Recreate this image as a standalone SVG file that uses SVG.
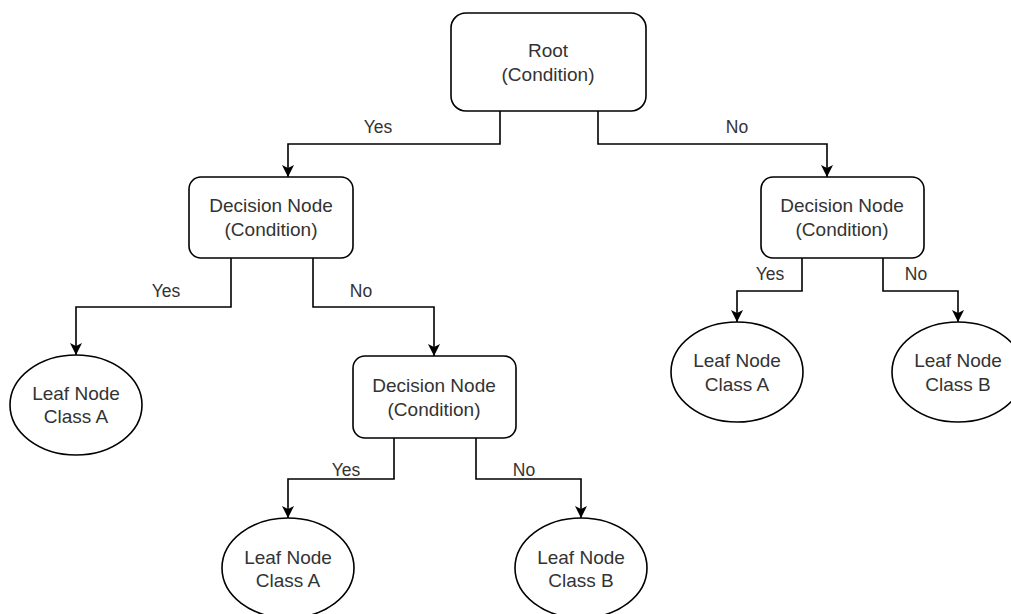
<svg xmlns="http://www.w3.org/2000/svg" width="1011" height="614" viewBox="0 0 1011 614">
  <defs>
    <marker id="arrow" viewBox="0 0 12 12" refX="12" refY="6" markerWidth="12" markerHeight="12" orient="auto" markerUnits="userSpaceOnUse">
      <path d="M0,0 L12,6 L0,12 L3,6 z" fill="#000"/>
    </marker>
    <style>
      .box { fill: #fff; stroke: #000; stroke-width: 1.6; }
      .edge { fill: none; stroke: #000; stroke-width: 1.6; marker-end: url(#arrow); }
      .label { font-family: "Liberation Sans", Arial, sans-serif; font-size: 19px; fill: #333; text-anchor: middle; }
      .elabel { font-family: "Liberation Sans", Arial, sans-serif; font-size: 17.5px; fill: #333; text-anchor: middle; }
    </style>
  </defs>
  <rect width="1011" height="614" fill="#fff"/>

  <!-- connectors -->
  <g id="connectors">
    <path class="edge" d="M500,111 V144 H288 V177"/>
    <path class="edge" d="M598,111 V144 H827 V177"/>
    <path class="edge" d="M231,258 V307 H76 V355"/>
    <path class="edge" d="M313,258 V307 H434 V356"/>
    <path class="edge" d="M394,438 V479 H288 V518"/>
    <path class="edge" d="M476,438 V479 H581 V518"/>
    <path class="edge" d="M802,258 V291 H737 V322"/>
    <path class="edge" d="M883,258 V291 H958 V322"/>
    <text class="elabel" x="378" y="133">Yes</text>
    <text class="elabel" x="737" y="133">No</text>
    <text class="elabel" x="166" y="297">Yes</text>
    <text class="elabel" x="361" y="297">No</text>
    <text class="elabel" x="346" y="476">Yes</text>
    <text class="elabel" x="524" y="476">No</text>
    <text class="elabel" x="770" y="280">Yes</text>
    <text class="elabel" x="916" y="280">No</text>
  </g>

  <!-- root -->
  <g id="root">
    <rect class="box" x="451" y="13" width="195" height="98" rx="15" ry="15"/>
    <text class="label" x="548" y="57">Root</text>
    <text class="label" x="548" y="81">(Condition)</text>
  </g>

  <!-- decision nodes -->
  <g id="decision-left">
    <rect class="box" x="189" y="177" width="164" height="81" rx="12" ry="12"/>
    <text class="label" x="271" y="212">Decision Node</text>
    <text class="label" x="271" y="236">(Condition)</text>
  </g>
  <g id="decision-mid">
    <rect class="box" x="353" y="356" width="163" height="82" rx="12" ry="12"/>
    <text class="label" x="434" y="392">Decision Node</text>
    <text class="label" x="434" y="416">(Condition)</text>
  </g>
  <g id="decision-right">
    <rect class="box" x="761" y="177" width="163" height="81" rx="12" ry="12"/>
    <text class="label" x="842" y="212">Decision Node</text>
    <text class="label" x="842" y="236">(Condition)</text>
  </g>

  <!-- leaf nodes -->
  <g id="leaf-left-a">
    <ellipse class="box" cx="76" cy="405" rx="66" ry="50"/>
    <text class="label" x="76" y="400">Leaf Node</text>
    <text class="label" x="76" y="423">Class A</text>
  </g>
  <g id="leaf-mid-a">
    <ellipse class="box" cx="288" cy="568" rx="66" ry="50"/>
    <text class="label" x="288" y="564">Leaf Node</text>
    <text class="label" x="288" y="587">Class A</text>
  </g>
  <g id="leaf-mid-b">
    <ellipse class="box" cx="581" cy="568" rx="66" ry="50"/>
    <text class="label" x="581" y="564">Leaf Node</text>
    <text class="label" x="581" y="587">Class B</text>
  </g>
  <g id="leaf-right-a">
    <ellipse class="box" cx="737" cy="372" rx="66" ry="50"/>
    <text class="label" x="737" y="367">Leaf Node</text>
    <text class="label" x="737" y="391">Class A</text>
  </g>
  <g id="leaf-right-b">
    <ellipse class="box" cx="958" cy="372" rx="66" ry="50"/>
    <text class="label" x="958" y="367">Leaf Node</text>
    <text class="label" x="958" y="391">Class B</text>
  </g>
</svg>
